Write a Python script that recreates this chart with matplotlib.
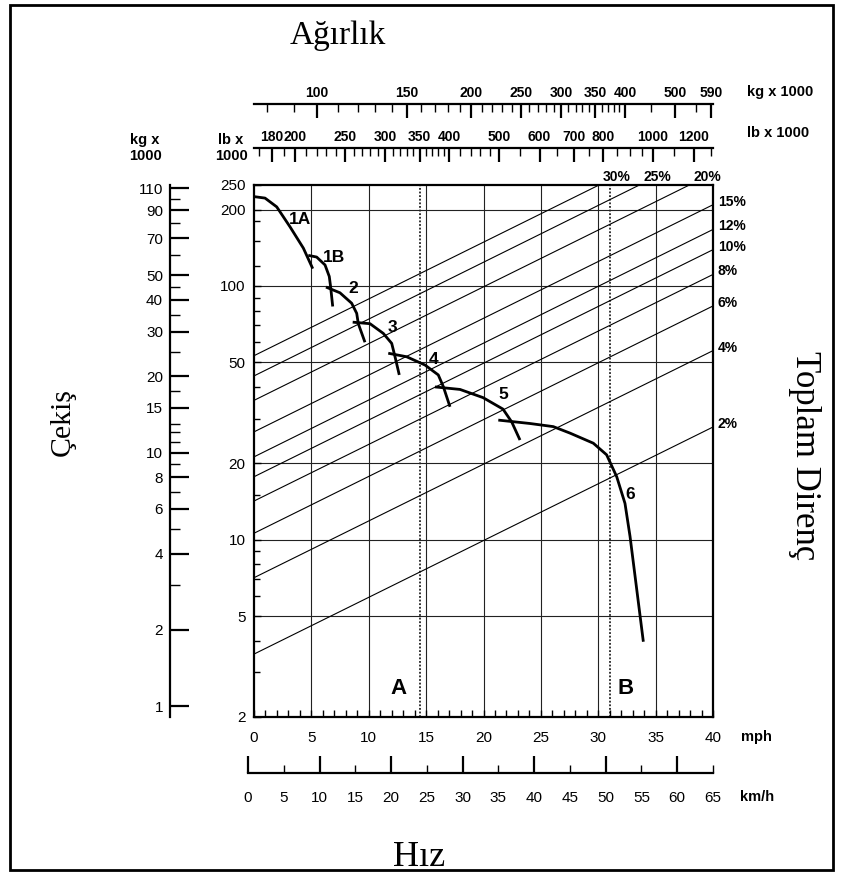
import math
import matplotlib
matplotlib.use("Agg")
import matplotlib.pyplot as plt
from matplotlib.ticker import NullFormatter
from matplotlib.patches import Rectangle

# ---- data ----
# rimpull curves per gear: speed (mph) vs rimpull (lb x 1000)
gear_names = ["1A", "1B", "2", "3", "4", "5", "6"]
gear_mph = [
    [0, 0.96, 1.98, 3.14, 4.30, 5.12],
    [4.73, 5.46, 6.19, 6.56, 6.68, 6.86],
    [6.27, 7.49, 8.51, 8.95, 9.09, 9.67],
    [8.60, 10.11, 11.27, 12.0, 12.29, 12.66],
    [11.70, 13.30, 14.90, 16.06, 16.50, 17.08],
    [15.77, 17.95, 19.96, 21.70, 22.46, 23.18],
    [21.29, 24.05, 26.08, 27.54, 29.57, 30.73, 31.61, 32.33, 32.77, 33.93],
]
gear_pull = [
    [225, 222, 205, 171, 141, 117],
    [132, 130, 121, 109, 99, 83],
    [99, 94, 85.5, 78, 71, 60],
    [72, 71, 65, 59.4, 52.6, 44.6],
    [54.3, 52.6, 48.8, 44.6, 40.1, 33.4],
    [40.0, 39.1, 36.3, 32.7, 29.1, 24.7],
    [29.6, 28.7, 27.9, 26.3, 24.0, 21.6, 17.7, 13.9, 10.3, 3.96],
]

# total resistance lines: rimpull (lb x 1000) at 0 mph and at 40 mph
grade_pct = [2, 4, 6, 8, 10, 12, 15, 20, 25, 30]
grade_pull_0 = [3.54, 7.08, 10.6, 14.2, 17.7, 21.2, 26.6, 35.4, 44.2, 53.1]
grade_pull_40 = [27.8, 55.6, 83.4, 111, 139, 167, 209, 278, 348, 417]

# axis ticks
lb_ticks = [2, 5, 10, 20, 50, 100, 200, 250]
lb_minor = [3, 4, 6, 7, 8, 9, 15, 30, 40, 60, 70, 80, 90, 120, 150, 180]
kg_ticks = [1, 2, 4, 6, 8, 10, 15, 20, 30, 40, 50, 70, 90, 110]
kg_minor = [3, 5, 7, 9, 11, 12, 13, 17.5, 25, 35, 45, 60, 80, 100]
mph_ticks = [0, 5, 10, 15, 20, 25, 30, 35, 40]
kmh_major = [0, 10, 20, 30, 40, 50, 60]
kmh_minor = [5, 15, 25, 35, 45, 55, 65]
top_kg_ticks = [100, 150, 200, 250, 300, 350, 400, 500, 590]
top_kg_minor = [80, 90, 110, 120, 130, 140, 160, 170, 180, 190, 210, 220, 230, 240,
                260, 270, 280, 290, 310, 320, 330, 340, 360, 370, 380, 390, 450, 550]
top_lb_ticks = [180, 200, 250, 300, 350, 400, 500, 600, 700, 800, 1000, 1200]
top_lb_minor = [170, 190, 210, 220, 230, 240, 260, 270, 280, 290, 310, 320, 330, 340,
                360, 370, 380, 390, 420, 440, 460, 480, 550, 650, 750, 850, 900,
                950, 1100, 1300]
kg_range = (75.3, 594)     # top kg scale at the box edges
lb_range = (166, 1310)     # top lb scale at the box edges
speed_A, speed_B = 14.5, 31.0

W, H = 842, 875
plt.rcParams['font.family'] = ['Liberation Sans', 'DejaVu Sans']
fig = plt.figure(figsize=(W / 100, H / 100), dpi=100)


def box(x0, y0, x1, y1):
    return [x0 / W, 1 - y1 / H, (x1 - x0) / W, (y1 - y0) / H]


# ---- main chart ----
ax = fig.add_axes(box(254, 185, 713, 717))
ax.set_xlim(0, 40)
ax.set_yscale('log')
ax.set_ylim(2, 250)
for s in ax.spines.values():
    s.set_linewidth(1.6)

for v in [5, 10, 20, 50, 100, 200]:
    ax.axhline(v, color='#222222', lw=0.8, zorder=1)
for v in mph_ticks[1:-1]:
    ax.axvline(v, color='#222222', lw=0.8, zorder=1)
for v in [speed_A, speed_B]:
    ax.axvline(v, color='#222222', lw=1.3, ls=(0, (1, 1)), zorder=1)

for g, p0, p40 in zip(grade_pct, grade_pull_0, grade_pull_40):
    ax.plot([0, 40], [p0, p40], color='black', lw=0.8, zorder=2)
    if p40 <= 250:
        ax.annotate(f"{g}%", xy=(40, p40), xytext=(5, 3), textcoords='offset pixels',
                    ha='left', va='center', fontsize=10, fontweight='bold',
                    annotation_clip=False)
    else:
        # where the line leaves the top of the box
        x_exit = 40 * math.log(250 / p0) / math.log(p40 / p0)
        ax.annotate(f"{g}%", xy=(x_exit, 250), xytext=(18, 8), textcoords='offset pixels',
                    ha='center', va='center', fontsize=10, fontweight='bold',
                    annotation_clip=False)

for m, p in zip(gear_mph, gear_pull):
    ax.plot(m, p, color='black', lw=2.0, solid_capstyle='butt', zorder=3)

label_at = {"1A": (4.0, 182), "1B": (6.97, 130), "2": (8.63, 98), "3": (12.03, 68.3),
            "4": (15.69, 51.5), "5": (21.7, 37.2), "6": (32.77, 15.1)}
for name in gear_names:
    x, y = label_at[name]
    ax.text(x, y, name, fontsize=12.5, fontweight='bold', ha='center', va='center')
ax.text(12.55, 2.6, "A", fontsize=16, fontweight='bold', ha='center', va='center')
ax.text(32.42, 2.6, "B", fontsize=16, fontweight='bold', ha='center', va='center')

ax.set_xticks(mph_ticks, labels=[str(v) for v in mph_ticks])
ax.set_xticks(range(0, 41), minor=True)
ax.set_yticks(lb_ticks, labels=[str(v) for v in lb_ticks])
ax.set_yticks(lb_minor, minor=True)
ax.yaxis.set_minor_formatter(NullFormatter())
ax.tick_params(axis='x', which='both', direction='in', length=5, width=1, pad=10,
               labelsize=11, top=False)
ax.tick_params(axis='y', which='major', direction='in', length=5, width=1, pad=6,
               labelsize=11, right=False)
ax.tick_params(axis='y', which='minor', direction='in', length=4, width=1, right=False)

# ---- kg rimpull axis on the left ----
kax = ax.secondary_yaxis(-0.183, functions=(lambda lb: lb * 0.4536, lambda kg: kg / 0.4536))
kax.spines['left'].set_linewidth(1.6)
kax.set_yticks(kg_ticks, labels=[str(v) for v in kg_ticks])
kax.set_yticks(kg_minor, minor=True)
kax.yaxis.set_minor_formatter(NullFormatter())
kax.tick_params(axis='y', which='major', direction='in', length=14, width=1.6, pad=5,
                labelsize=11)
kax.tick_params(axis='y', which='minor', direction='in', length=7, width=1)

fig.text(145 / W, 1 - 148 / H, "kg x\n1000", ha='center', va='center', fontsize=10.5,
         fontweight='bold', linespacing=1.1)
fig.text(231 / W, 1 - 148 / H, "lb x\n1000", ha='center', va='center', fontsize=10.5,
         fontweight='bold', linespacing=1.1)

# ---- km/h scale under the chart ----
sax = fig.add_axes(box(248, 772, 713, 773))
sax.set_xlim(0, 65)
sax.set_yticks([])
sax.patch.set_visible(False)
for s in ['left', 'right', 'top']:
    sax.spines[s].set_visible(False)
sax.spines['bottom'].set_linewidth(1.6)
sax.set_xticks(kmh_major, labels=[str(v) for v in kmh_major])
sax.set_xticks(kmh_minor, labels=[str(v) for v in kmh_minor], minor=True)
sax.tick_params(axis='x', which='major', direction='in', length=12, width=1.6, pad=13,
                labelsize=11)
sax.tick_params(axis='x', which='minor', direction='in', length=6, width=1, pad=13,
                labelsize=11)
fig.text(756 / W, 1 - 737 / H, "mph", ha='center', va='center', fontsize=10.5, fontweight='bold')
fig.text(757 / W, 1 - 797 / H, "km/h", ha='center', va='center', fontsize=10.5, fontweight='bold')


# ---- weight scales on top ----
def weight_axis(y, lims, major, minor):
    wax = fig.add_axes(box(254, y, 713, y + 1))
    wax.set_xscale('log')
    wax.set_xlim(*lims)
    wax.set_yticks([])
    wax.patch.set_visible(False)
    for s in ['left', 'right', 'bottom']:
        wax.spines[s].set_visible(False)
    wax.spines['top'].set_linewidth(1.6)
    wax.xaxis.tick_top()
    wax.set_xticks(major, labels=[str(v) for v in major], fontweight='bold')
    wax.set_xticks(minor, minor=True)
    wax.xaxis.set_minor_formatter(NullFormatter())
    wax.tick_params(axis='x', which='major', direction='in', length=10, width=1.6, pad=3,
                    labelsize=10)
    wax.tick_params(axis='x', which='minor', direction='in', length=6, width=1)
    return wax


weight_axis(104, kg_range, top_kg_ticks, top_kg_minor)
weight_axis(148, lb_range, top_lb_ticks, top_lb_minor)
fig.text(780 / W, 1 - 92 / H, "kg x 1000", ha='center', va='center', fontsize=10.5, fontweight='bold')
fig.text(778 / W, 1 - 133 / H, "lb x 1000", ha='center', va='center', fontsize=10.5, fontweight='bold')

# ---- titles ----
serif = ['Liberation Serif', 'DejaVu Serif']
fig.text(338 / W, 1 - 36 / H, "Ağırlık", ha='center', va='center', fontsize=24, family=serif)
fig.text(63 / W, 1 - 422 / H, "Çekiş", ha='center', va='center', fontsize=21.5, family=serif,
         rotation=90)
fig.text(805 / W, 1 - 456 / H, "Toplam Direnç", ha='center', va='center', fontsize=25,
         family=serif, rotation=-90)
fig.text(419 / W, 1 - 857 / H, "Hız", ha='center', va='center', fontsize=26, family=serif)

fig.patches.append(Rectangle((10 / W, 1 - 870 / H), 823 / W, 865 / H, transform=fig.transFigure,
                             fill=False, lw=2, edgecolor='black'))

fig.savefig("out.png", dpi=100)
